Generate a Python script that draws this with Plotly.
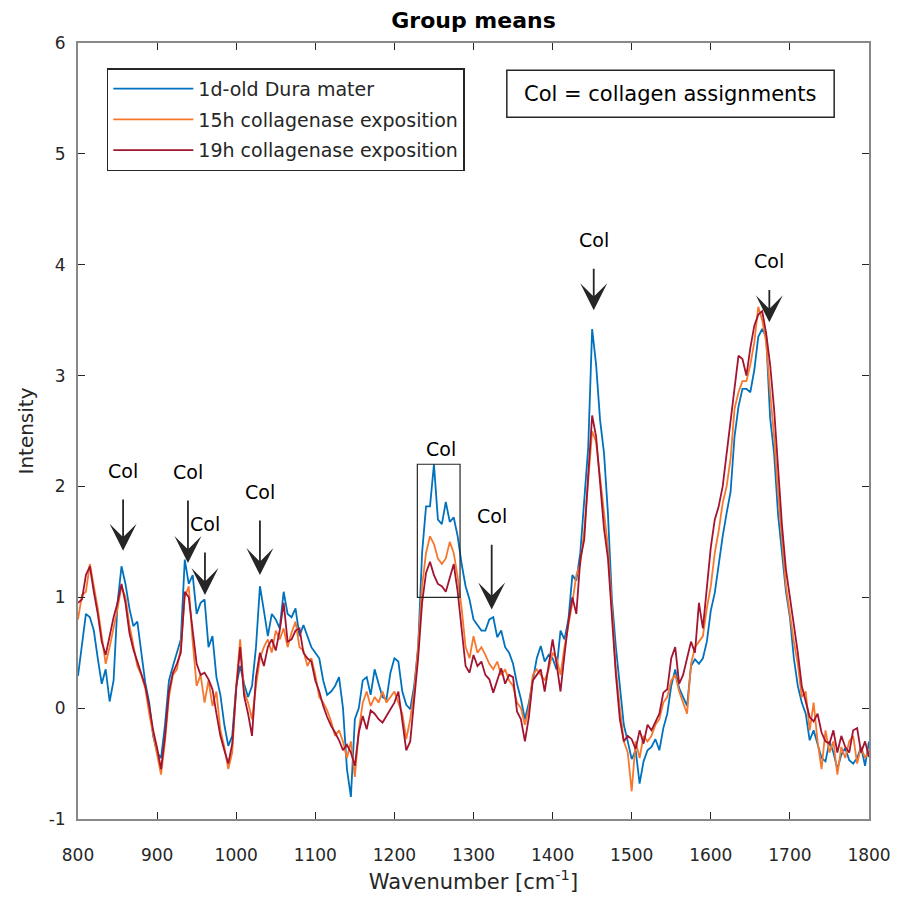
import numpy as np
import plotly.graph_objects as go

# Wavenumber grid (cm^-1)
wavenumber = np.arange(800, 1801, 5)

# Mean Raman spectra per group, sampled every 5 cm^-1
dura_1d = (
    [0.29, 0.55, 0.85, 0.82, 0.70, 0.45, 0.22, 0.35, 0.06, 0.25, 0.95, 1.28, 1.12, 0.90, 0.74, 0.78, 0.48, 0.23, 0.05, -0.25]
    + [-0.40, -0.45, -0.15, 0.25, 0.38, 0.50, 0.62, 1.34, 1.12, 1.20, 0.85, 0.95, 0.98, 0.55, 0.65, 0.28, 0.12, -0.15, -0.34, -0.25]
    + [0.20, 0.38, 0.22, 0.10, 0.20, 0.55, 1.10, 0.88, 0.65, 0.85, 0.80, 0.72, 1.05, 0.85, 0.82, 0.90, 0.65, 0.75, 0.65, 0.55]
    + [0.50, 0.45, 0.25, 0.12, 0.15, 0.20, 0.28, 0.00, -0.55, -0.80, -0.10, 0.00, 0.25, 0.28, 0.12, 0.35, 0.22, 0.10, 0.08, 0.32]
    + [0.45, 0.42, 0.15, 0.03, -0.01, 0.20, 0.55, 1.40, 1.82, 1.82, 2.20, 1.70, 1.66, 1.86, 1.68, 1.72, 1.55, 1.30, 1.10, 0.98]
    + [0.80, 0.75, 0.70, 0.70, 0.80, 0.82, 0.64, 0.70, 0.55, 0.50, 0.40, 0.22, 0.08, -0.10, 0.05, 0.25, 0.45, 0.56, 0.42, 0.48]
    + [0.45, 0.35, 0.70, 0.62, 0.80, 1.20, 1.15, 1.40, 1.85, 2.35, 3.42, 3.10, 2.60, 2.30, 1.75, 0.98, 0.55, 0.18, -0.15, -0.30]
    + [-0.46, -0.38, -0.68, -0.48, -0.38, -0.35, -0.28, -0.38, -0.18, -0.05, 0.20, 0.35, 0.18, 0.10, 0.02, 0.38, 0.44, 0.40, 0.45, 0.60]
    + [0.88, 1.04, 1.30, 1.55, 1.76, 1.95, 2.45, 2.72, 2.88, 2.88, 2.85, 3.05, 3.35, 3.42, 3.35, 2.62, 2.30, 1.75, 1.40, 1.05]
    + [0.82, 0.45, 0.20, 0.05, -0.05, -0.29, -0.20, -0.32, -0.45, -0.48, -0.30, -0.40, -0.55, -0.42, -0.36, -0.47, -0.50, -0.45, -0.35, -0.52, -0.30]
)

collagenase_15h = (
    [0.80, 1.02, 1.05, 1.30, 1.10, 0.90, 0.65, 0.40, 0.55, 0.72, 0.90, 1.10, 1.00, 0.75, 0.55, 0.38, 0.30, 0.18, -0.05, -0.25]
    + [-0.42, -0.60, -0.30, 0.10, 0.30, 0.35, 0.55, 1.00, 1.10, 0.60, 0.20, 0.30, 0.05, 0.25, 0.02, 0.15, -0.20, -0.35, -0.55, -0.40]
    + [0.20, 0.62, 0.15, 0.05, -0.10, 0.20, 0.45, 0.55, 0.62, 0.50, 0.70, 0.62, 0.72, 0.55, 0.68, 0.78, 0.55, 0.52, 0.38, 0.45]
    + [0.30, 0.10, 0.05, -0.02, -0.12, -0.25, -0.20, -0.30, -0.45, -0.30, -0.62, -0.20, 0.05, 0.15, 0.02, 0.10, 0.05, 0.15, 0.05, 0.10]
    + [0.15, 0.05, -0.05, -0.28, -0.10, 0.15, 0.55, 1.10, 1.40, 1.55, 1.48, 1.35, 1.30, 1.35, 1.50, 1.40, 1.18, 0.90, 0.55, 0.45]
    + [0.65, 0.50, 0.55, 0.48, 0.40, 0.35, 0.42, 0.30, 0.35, 0.25, 0.20, 0.05, 0.00, -0.15, 0.00, 0.30, 0.35, 0.30, 0.25, 0.35]
    + [0.50, 0.45, 0.30, 0.55, 0.75, 0.95, 1.20, 1.30, 1.60, 2.05, 2.50, 2.40, 2.10, 1.75, 1.45, 0.90, 0.35, 0.00, -0.30, -0.40]
    + [-0.75, -0.30, -0.45, -0.25, -0.30, -0.25, -0.15, -0.10, 0.05, 0.10, 0.25, 0.30, 0.15, 0.05, -0.05, 0.40, 0.55, 0.60, 0.65, 0.90]
    + [1.10, 1.40, 1.60, 1.85, 2.00, 2.25, 2.70, 2.85, 2.95, 2.95, 3.10, 3.30, 3.62, 3.50, 3.30, 2.85, 2.45, 1.95, 1.50, 1.10]
    + [0.85, 0.60, 0.40, 0.10, 0.15, -0.20, 0.05, -0.30, -0.55, -0.20, -0.40, -0.30, -0.60, -0.35, -0.45, -0.30, -0.25, -0.50, -0.35, -0.45, -0.38]
)

collagenase_19h = (
    [0.95, 0.98, 1.20, 1.28, 1.05, 0.85, 0.60, 0.48, 0.65, 0.82, 0.95, 1.12, 0.95, 0.68, 0.53, 0.42, 0.32, 0.20, 0.02, -0.20]
    + [-0.36, -0.55, -0.25, 0.15, 0.32, 0.40, 0.50, 1.05, 1.00, 0.72, 0.40, 0.30, 0.32, 0.26, 0.17, -0.05, -0.25, -0.38, -0.50, -0.32]
    + [0.17, 0.55, 0.11, -0.05, -0.25, 0.28, 0.50, 0.38, 0.55, 0.62, 0.52, 0.70, 0.95, 0.60, 0.62, 0.70, 0.72, 0.50, 0.45, 0.42]
    + [0.25, 0.15, 0.02, -0.08, -0.16, -0.22, -0.29, -0.38, -0.33, -0.40, -0.52, -0.22, -0.07, -0.19, -0.02, -0.05, -0.10, -0.13, -0.07, -0.02]
    + [0.05, 0.15, -0.10, -0.38, -0.30, 0.05, 0.45, 0.95, 1.22, 1.32, 1.20, 1.12, 1.10, 1.05, 1.18, 1.30, 1.05, 0.70, 0.38, 0.32]
    + [0.48, 0.38, 0.42, 0.30, 0.26, 0.14, 0.25, 0.36, 0.22, 0.30, 0.28, -0.03, -0.10, -0.30, -0.08, 0.25, 0.30, 0.35, 0.15, 0.40]
    + [0.62, 0.40, 0.15, 0.48, 0.78, 1.00, 0.85, 1.34, 1.52, 2.10, 2.64, 2.45, 2.05, 1.62, 1.35, 0.80, 0.30, -0.10, -0.30, -0.25]
    + [-0.28, -0.37, -0.20, -0.32, -0.15, -0.20, -0.12, -0.05, 0.14, 0.17, 0.45, 0.55, 0.22, 0.30, 0.45, 0.60, 0.50, 0.95, 0.72, 1.10]
    + [1.45, 1.70, 1.82, 2.00, 2.30, 2.60, 2.88, 3.18, 3.15, 3.00, 3.25, 3.45, 3.55, 3.58, 3.38, 3.10, 2.70, 2.15, 1.65, 1.25]
    + [1.00, 0.72, 0.50, 0.20, 0.05, -0.08, -0.12, -0.05, -0.22, -0.30, -0.32, -0.20, -0.40, -0.25, -0.35, -0.40, -0.20, -0.18, -0.40, -0.30, -0.44]
)

series_names = ["1d-old Dura mater", "15h collagenase exposition", "19h collagenase exposition"]
series_values = [dura_1d, collagenase_15h, collagenase_19h]
series_colors = ["#0072BD", "#F7782D", "#A2142F"]

# Collagen band markers: arrow x, arrow tip y, label y (label sits above the arrow)
col_arrow_x = [857, 939, 960.5, 1030, 1323, 1452, 1674]
col_arrow_tip = [1.42, 1.31, 1.02, 1.20, 0.89, 3.59, 3.48]
col_label_y = [2.14, 2.13, 1.66, 1.95, 1.73, 4.22, 4.03]

# Amide III region highlighted with a rectangle
box_x = [1229, 1283]
box_y = [1.0, 2.2]
box_label = (1259, 2.34)

x_ticks = list(range(800, 1801, 100))
y_ticks = list(range(-1, 7))
y_tick_text = [str(v) for v in y_ticks]

FONT = "DejaVu Sans"
TXT = "#262626"

fig = go.Figure()
for name, vals, col in zip(series_names, series_values, series_colors):
    fig.add_trace(go.Scatter(
        x=wavenumber, y=vals, mode="lines", name=name, legendgroup=name,
        line=dict(color=col, width=1.8),
    ))

annotations = []
for ax_, tip, ly in zip(col_arrow_x, col_arrow_tip, col_label_y):
    annotations.append(dict(
        x=ax_, y=tip, ax=ax_, ay=ly, xref="x", yref="y", axref="x", ayref="y",
        text="Col", showarrow=True, arrowhead=3, arrowsize=2.5, arrowwidth=1.8,
        arrowcolor="#262626", startstandoff=16,
        font=dict(family=FONT, size=19, color="#000000"),
    ))
annotations.append(dict(
    x=box_label[0], y=box_label[1], xref="x", yref="y", text="Col", showarrow=False,
    font=dict(family=FONT, size=19, color="#000000"),
))
annotations.append(dict(
    x=((509 + 838) / 2 - 78) / 795, y=(819.3 - 93.5) / 776.6,
    xref="paper", yref="paper", xanchor="center", yanchor="middle",
    text="Col = collagen assignments",
    showarrow=False, font=dict(family=FONT, size=21, color="#000000"),
))

shapes = [
    dict(type="rect", xref="x", yref="y", x0=box_x[0], x1=box_x[1], y0=box_y[0], y1=box_y[1],
         line=dict(color="#262626", width=1.2)),
    dict(type="rect", xref="paper", yref="paper",
         x0=(509 - 78) / 795, x1=(838 - 78) / 795,
         y0=(819.3 - 117) / 776.6, y1=(819.3 - 70) / 776.6,
         line=dict(color="#262626", width=1.5), fillcolor="white", layer="below"),
]

axis_common = dict(
    showline=True, linecolor="#888888", linewidth=2, mirror="ticks",
    ticks="inside", ticklen=7, tickcolor="#262626", tickwidth=1,
    showgrid=False, zeroline=False,
    tickfont=dict(family=FONT, size=17, color=TXT),
)

fig.update_layout(
    width=903, height=903,
    margin=dict(l=78, r=30, t=43, b=84),
    paper_bgcolor="white", plot_bgcolor="white",
    title=dict(text="<b>Group means</b>", x=0.5, xref="paper", xanchor="center",
               y=1 - 20 / 903, yanchor="middle",
               font=dict(family=FONT, size=22, color="#000000")),
    xaxis=dict(range=[800, 1800], tickvals=x_ticks, ticklabelstandoff=20,
               title=dict(text="Wavenumber [cm<sup>-1</sup>]", standoff=10,
                          font=dict(family=FONT, size=21, color=TXT)),
               **axis_common),
    yaxis=dict(range=[-1, 6], tickvals=y_ticks, ticktext=y_tick_text, ticklabelstandoff=7,
               title=dict(text="Intensity", standoff=10,
                          font=dict(family=FONT, size=20, color=TXT)),
               **axis_common),
    legend=dict(x=(107 - 78) / 795, y=(819.3 - 68) / 776.6, xanchor="left", yanchor="top",
                bgcolor="white", bordercolor="#262626", borderwidth=1.5,
                font=dict(family=FONT, size=19, color=TXT),
                itemwidth=80, tracegroupgap=3),
    annotations=annotations,
    shapes=shapes,
)

fig.write_html("out.html")
